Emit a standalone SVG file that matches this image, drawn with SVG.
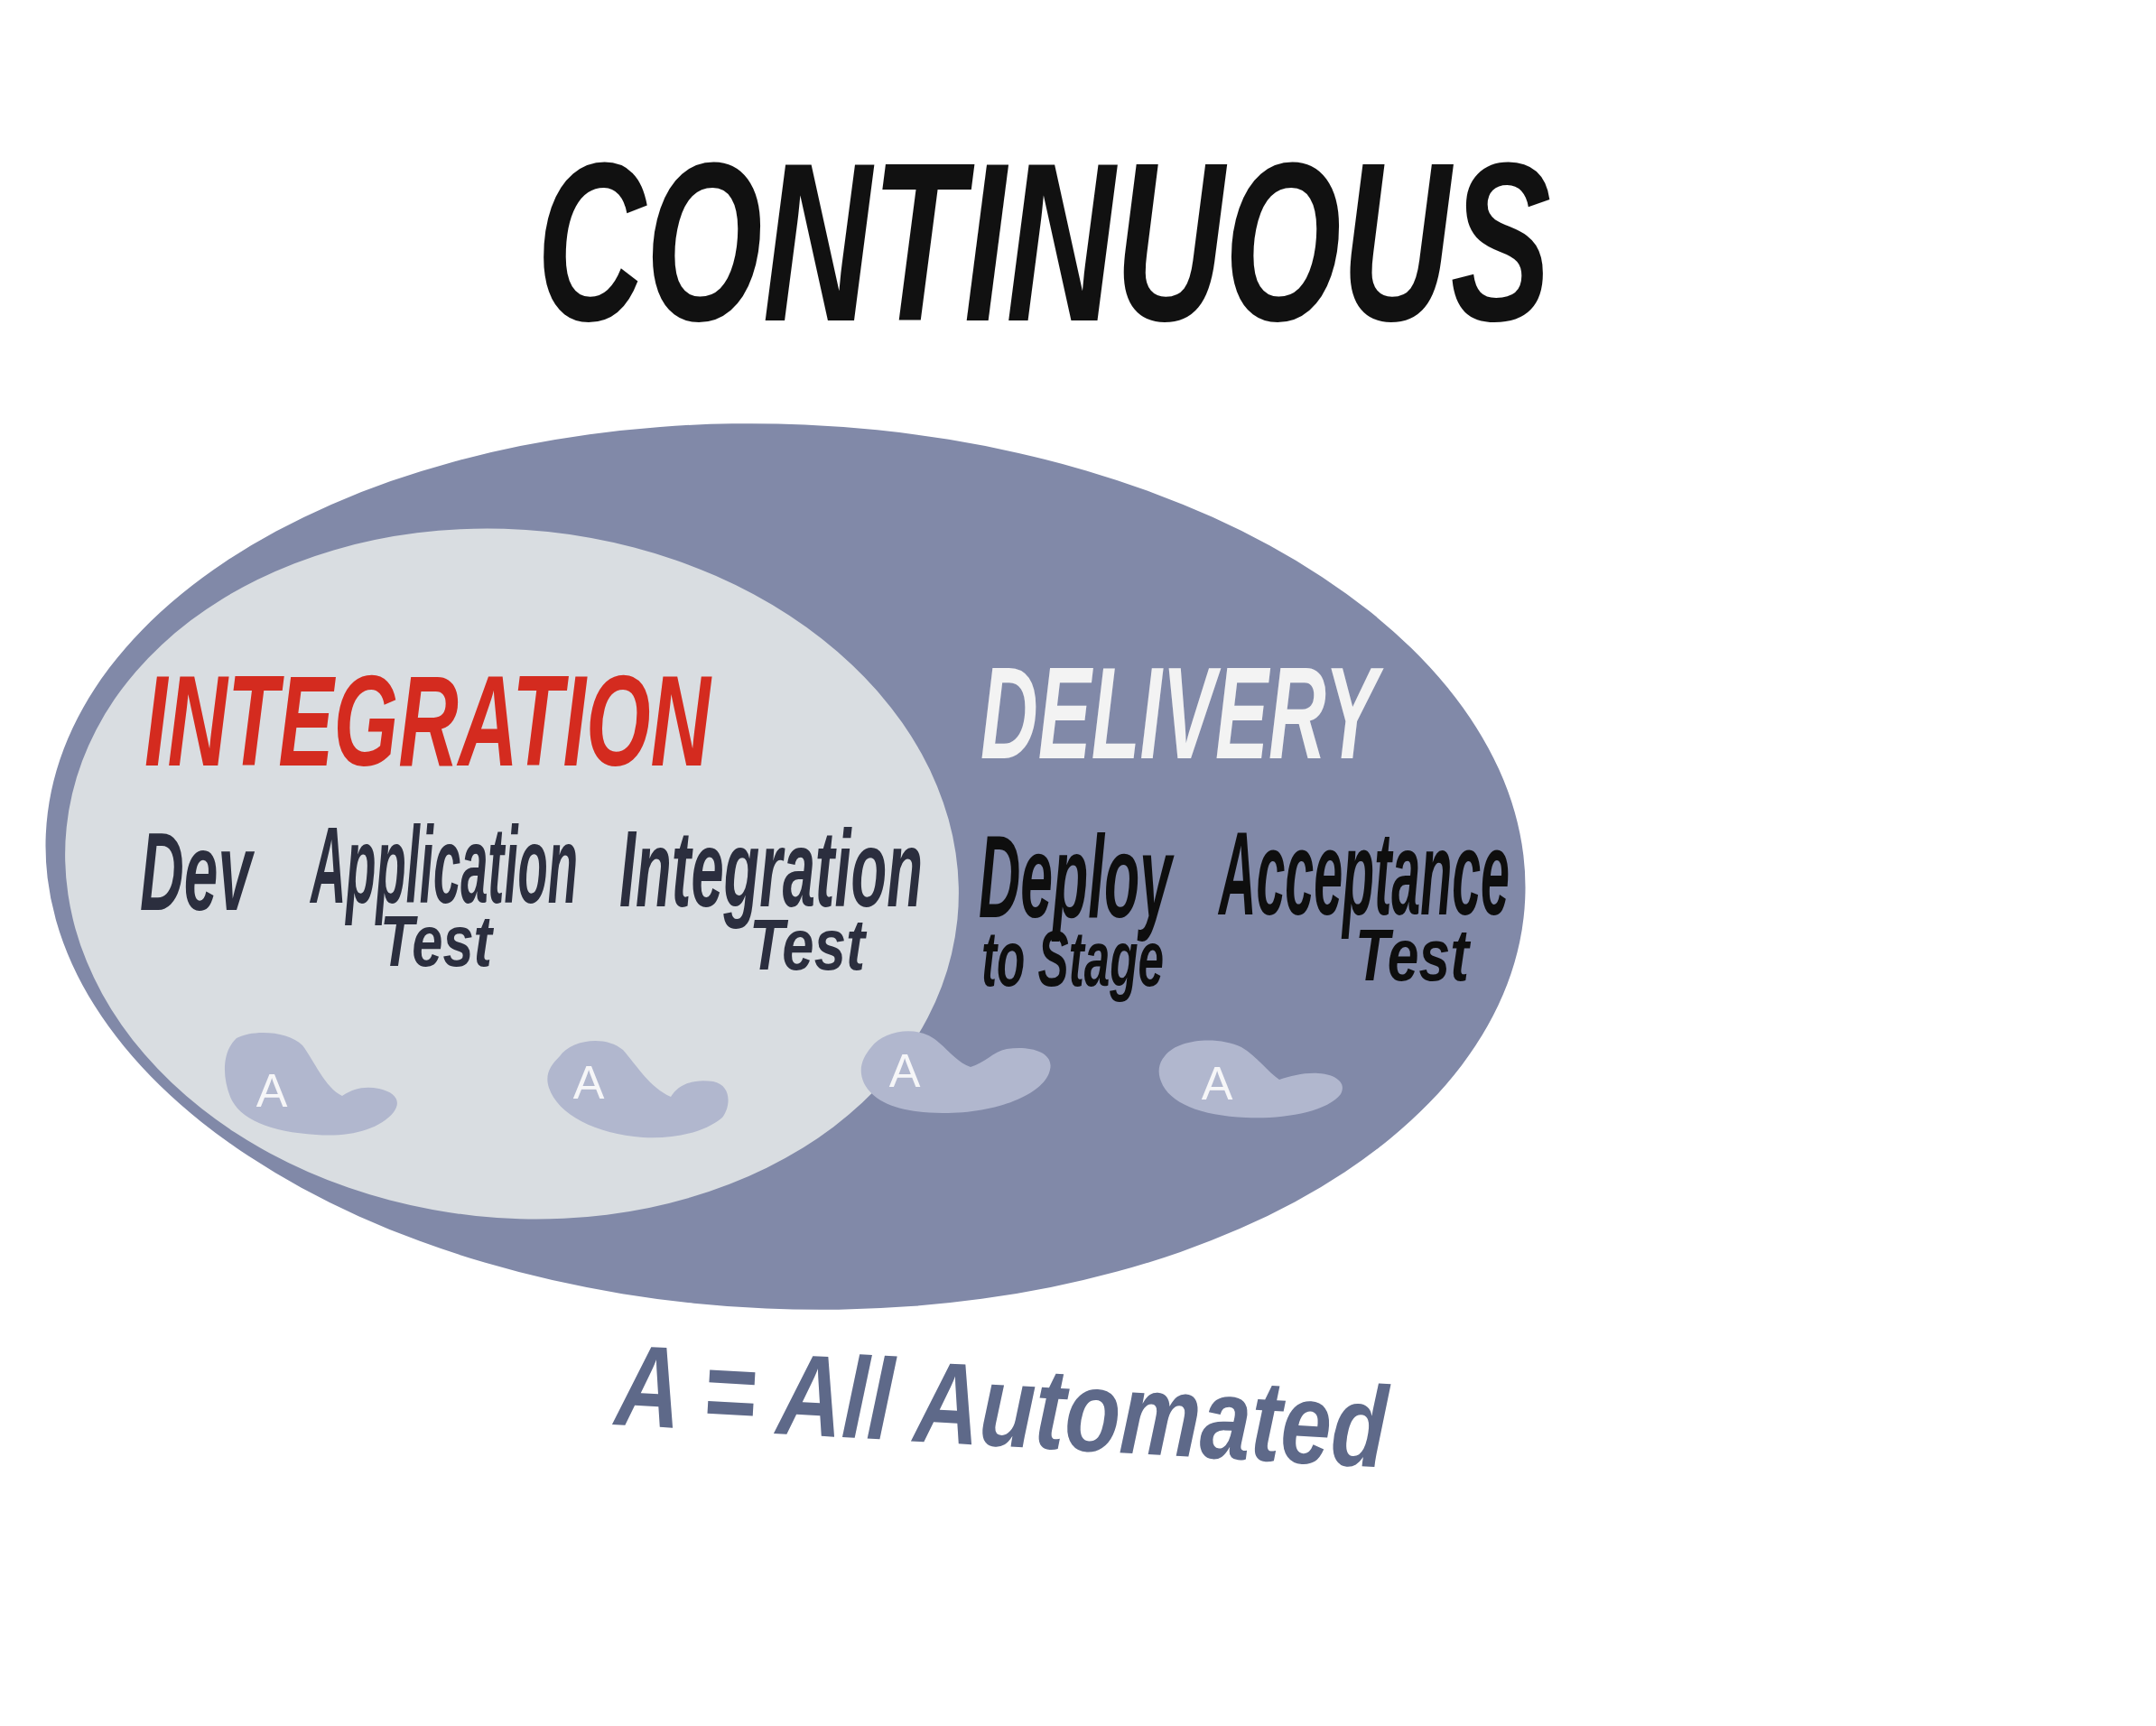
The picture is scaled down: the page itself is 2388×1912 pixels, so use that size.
<svg xmlns="http://www.w3.org/2000/svg" width="2388" height="1912" viewBox="0 0 2388 1912">
<style>
.hand{font-family:'Liberation Sans Narrow','Liberation Sans',Arial,sans-serif;font-weight:bold;font-style:italic}
.lbl{fill:#2b2e3e}
.lbl2{fill:#0e0e0e}
.blob{fill:#b1b7ce}
.a{fill:#f6f6f8;font-family:'Liberation Sans',Arial,sans-serif;font-size:52px;text-anchor:middle}
</style>
<rect width="2388" height="1912" fill="#ffffff"/>
<g id="title">
<text class="hand" x="594" y="355" font-size="250" fill="#111111" textLength="1124" lengthAdjust="spacingAndGlyphs">CONTINUOUS</text>
</g>
<g id="delivery-area">
<ellipse cx="870" cy="960" rx="820" ry="490" transform="rotate(2.5 870 960)" fill="#8189a8"/>
</g>
<g id="integration-area">
<ellipse cx="567" cy="968" rx="496" ry="381" transform="rotate(6 567 968)" fill="#d9dde1"/>
</g>
<g id="integration-label">
<text class="hand" x="160" y="848" font-size="142" fill="#d42b1f" textLength="627" lengthAdjust="spacingAndGlyphs">INTEGRATION</text>
</g>
<g id="delivery-label">
<text class="hand" x="1086" y="840" font-size="145" fill="#f3f3f3" textLength="440" lengthAdjust="spacingAndGlyphs">DELIVERY</text>
</g>
<g id="dev">
<text class="hand lbl" x="155" y="1008" font-size="122" textLength="124" lengthAdjust="spacingAndGlyphs">Dev</text>
<path class="blob" d="M 262,1150 C 280,1140 320,1142 335,1158 C 348,1175 360,1205 379,1214 C 392,1205 405,1203 420,1206 C 438,1210 445,1220 436,1232 C 420,1252 385,1260 350,1257 C 300,1254 265,1240 255,1215 C 246,1192 246,1165 262,1150 Z"/>
<text class="a" x="301" y="1226">A</text>
</g>
<g id="application-test">
<text class="hand lbl" x="344" y="1000" font-size="120" textLength="296" lengthAdjust="spacingAndGlyphs">Application</text>
<text class="hand lbl" x="421" y="1070" font-size="80" textLength="124" lengthAdjust="spacingAndGlyphs">Test</text>
<path class="blob" d="M 620,1170 C 632,1152 670,1146 690,1163 C 705,1180 720,1205 743,1215 C 752,1200 770,1195 790,1198 C 810,1202 810,1225 800,1238 C 780,1255 745,1262 712,1260 C 660,1256 618,1235 608,1205 C 603,1190 610,1180 620,1170 Z"/>
<text class="a" x="652" y="1217">A</text>
</g>
<g id="integration-test">
<text class="hand lbl" x="686" y="1004" font-size="120" textLength="336" lengthAdjust="spacingAndGlyphs">Integration</text>
<text class="hand lbl" x="830" y="1074" font-size="80" textLength="128" lengthAdjust="spacingAndGlyphs">Test</text>
<path class="blob" d="M 965,1160 C 980,1140 1020,1135 1040,1155 C 1052,1165 1062,1178 1075,1182 C 1090,1178 1100,1165 1115,1162 C 1140,1158 1168,1165 1163,1185 C 1158,1210 1110,1232 1050,1233 C 1000,1234 968,1222 957,1200 C 950,1185 955,1172 965,1160 Z"/>
<text class="a" x="1002" y="1204">A</text>
</g>
<g id="deploy-to-stage">
<text class="hand lbl2" x="1084" y="1016" font-size="130" textLength="214" lengthAdjust="spacingAndGlyphs">Deploy</text>
<text class="hand lbl2" x="1087" y="1092" font-size="88" textLength="202" lengthAdjust="spacingAndGlyphs">to Stage</text>
<path class="blob" d="M 1290,1170 C 1305,1150 1350,1148 1375,1160 C 1392,1170 1405,1188 1417,1196 C 1430,1192 1445,1188 1460,1189 C 1480,1190 1492,1200 1485,1212 C 1470,1232 1420,1240 1380,1238 C 1330,1236 1295,1222 1286,1198 C 1282,1188 1283,1178 1290,1170 Z"/>
<text class="a" x="1348" y="1218">A</text>
</g>
<g id="acceptance-test">
<text class="hand lbl2" x="1350" y="1013" font-size="132" textLength="322" lengthAdjust="spacingAndGlyphs">Acceptance</text>
<text class="hand lbl2" x="1501" y="1086" font-size="82" textLength="126" lengthAdjust="spacingAndGlyphs">Test</text>
</g>
<g id="connectors"></g>
<g id="legend">
<text class="hand" x="680" y="1578" font-size="128" fill="#5e6989" textLength="855" lengthAdjust="spacingAndGlyphs" transform="rotate(3.2 680 1578)">A = All Automated</text>
</g>
</svg>
